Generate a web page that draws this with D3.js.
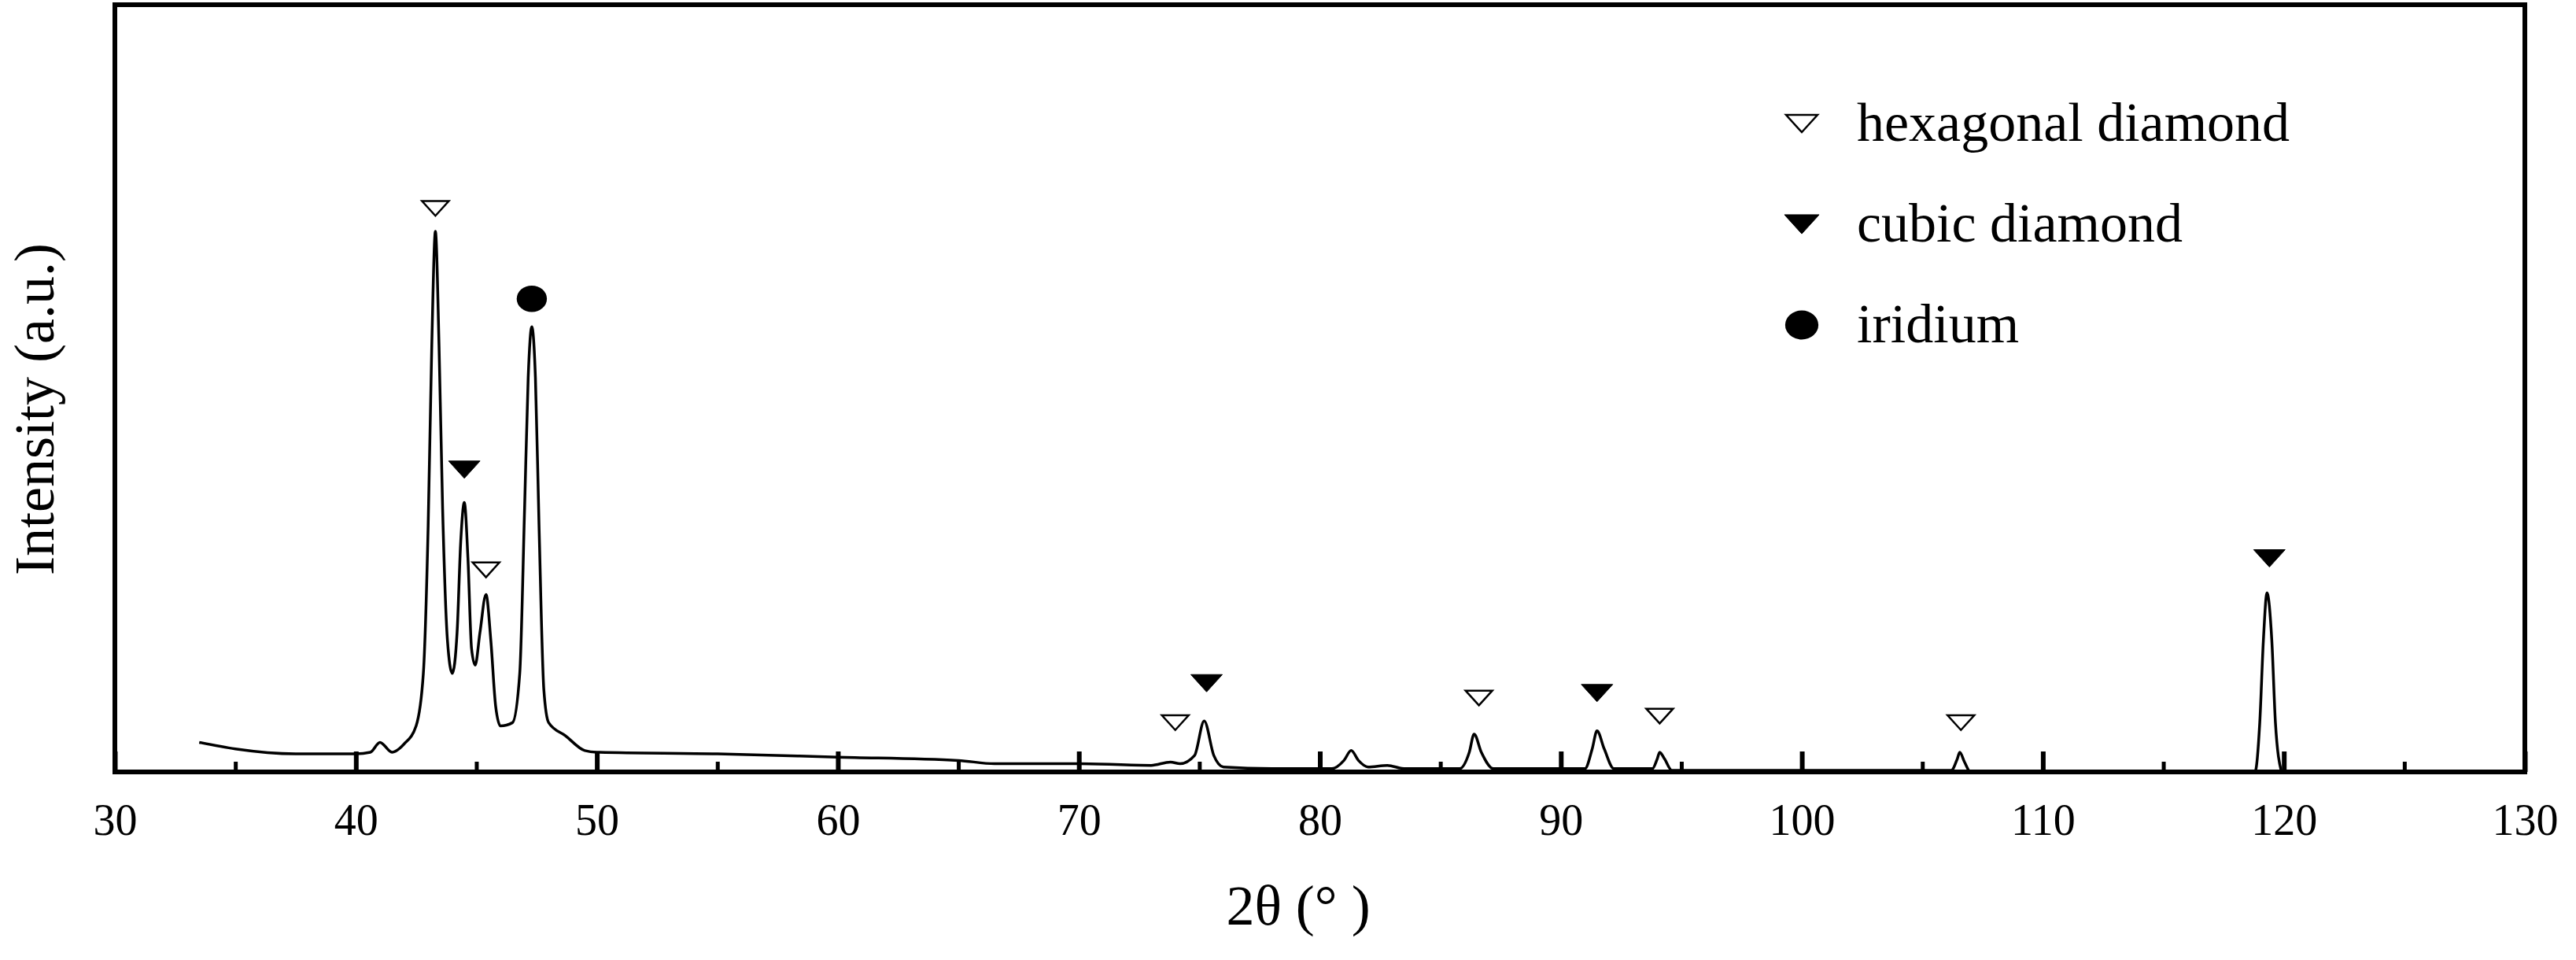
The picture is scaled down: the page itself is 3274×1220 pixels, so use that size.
<!DOCTYPE html>
<html><head><meta charset="utf-8">
<script src="https://cdn.jsdelivr.net/npm/d3@7"></script>
<style>body{margin:0;background:#fff}text{font-family:"Liberation Serif","DejaVu Serif",serif}</style>
</head><body><div id="chart"></div>
<script>
// 2theta values and intensity (a.u.)
const twoTheta = [33.5,35,37.5,40,40.6,41.0,41.5,42.0,42.5,42.8,43.0,43.15,43.3,43.45,43.6,43.8,44.0,44.2,44.35,44.5,44.65,44.8,44.95,45.15,45.4,45.6,45.8,46.0,46.5,46.8,47.0,47.15,47.3,47.45,47.6,47.8,48.0,48.7,49.5,50,55,60,65,66.5,70,73,73.8,74.2,74.8,75.2,75.6,76,78,80.5,81.0,81.3,81.6,82,82.8,83.5,85.8,86.2,86.4,86.7,87.2,91,91.3,91.5,91.8,92.2,93.8,94.0,94.1,94.3,94.6,106.2,106.45,106.55,106.75,107,118.8,119.0,119.15,119.3,119.5,119.65,119.9];
const intensity = [18,14,11,11,12,18,12,17,28,60,150,260,329,260,160,80,60,85,140,164,130,75,65,85,108,80,40,28,30,60,160,240,271,240,150,50,30,22,13,12,11,9,7,5,5,4,6,5,10,31,10,3,2,2,7,13,7,3,4,2,2,12,23,12,2,2,14,25,14,2,2,8,12,8,1,1,8,12,6,0,0,30,80,109,80,30,0];

// phase markers: position, height, type
const markX = [43.3,44.5,45.4,47.3,74.0,75.3,86.6,91.5,94.1,106.6,119.4];
const markY = [343,184,123,288,30,54,45,48,34,30,130];
const markType = ["hex","cubic","hex","ir","hex","cubic","hex","cubic","hex","hex","cubic"];

const legendLabels = ["hexagonal diamond","cubic diamond","iridium"];
const legendTypes = ["hex","cubic","ir"];
const xTicks = [30,40,50,60,70,80,90,100,110,120,130];

const W = 3274, H = 1220;
const mLeft = 146, mRight = 3209, mTop = 6, mBottom = 981;

const svg = d3.select("#chart").append("svg").attr("width", W).attr("height", H);

const x = d3.scaleLinear().domain([30,130]).range([mLeft,mRight]);
const y = d3.scaleLinear().domain([0,467]).range([mBottom,mTop]);

const pts = twoTheta.map((d,i) => [d, intensity[i]]);
svg.append("path")
   .datum(pts)
   .attr("fill","none")
   .attr("stroke","#000")
   .attr("stroke-width",3.5)
   .attr("d", d3.line().x(d => x(d[0])).y(d => y(d[1])).curve(d3.curveMonotoneX));

// frame
svg.append("rect").attr("x",mLeft).attr("y",mTop).attr("width",mRight-mLeft).attr("height",mBottom-mTop)
   .attr("fill","none").attr("stroke","#000").attr("stroke-width",6);

// ticks inward
const xAxis = d3.axisBottom(x).tickValues(xTicks).tickSize(-26).tickPadding(40).tickFormat(d3.format("d"));
const gx = svg.append("g").attr("transform",`translate(0,${mBottom})`).call(xAxis);
gx.select(".domain").remove();
gx.selectAll("line").attr("stroke-width",6);
gx.selectAll("text").attr("font-size",56).attr("font-family","Liberation Serif");
const minor = d3.axisBottom(x).tickValues(d3.range(35,130,10)).tickSize(-13).tickFormat("");
const gm = svg.append("g").attr("transform",`translate(0,${mBottom})`).call(minor);
gm.select(".domain").remove();
gm.selectAll("line").attr("stroke-width",5);

function marker(g, type, cx, cy, s) {
  if (type === "ir") {
    g.append("ellipse").attr("cx",cx).attr("cy",cy).attr("rx",s*0.48).attr("ry",s*0.42).attr("fill","#000");
  } else {
    const h = s*0.55;
    g.append("path").attr("d",`M${cx-s/2},${cy-h/2}L${cx+s/2},${cy-h/2}L${cx},${cy+h/2}Z`)
     .attr("fill", type === "cubic" ? "#000" : "#fff").attr("stroke","#000").attr("stroke-width",type==="cubic"?1:2.5);
  }
}

const mg = svg.append("g");
markX.forEach((d,i) => {
  const s = markType[i] === "hex" ? 34 : 40;
  marker(mg, markType[i], x(d), y(markY[i]), s);
});

// legend
const lg = svg.append("g");
legendLabels.forEach((t,i) => {
  const cy = 157 + i*128;
  marker(lg, legendTypes[i], 2290, cy, legendTypes[i]==="hex" ? 40 : 44);
  lg.append("text").attr("x",2360).attr("y",cy+22).attr("font-size",70).text(t);
});

svg.append("text").attr("x",1650).attr("y",1175).attr("text-anchor","middle").attr("font-size",72)
   .text("2θ (°   )");
svg.append("text").attr("transform","translate(68,520) rotate(-90)").attr("text-anchor","middle")
   .attr("font-size",72).text("Intensity (a.u.)");
</script></body></html>
